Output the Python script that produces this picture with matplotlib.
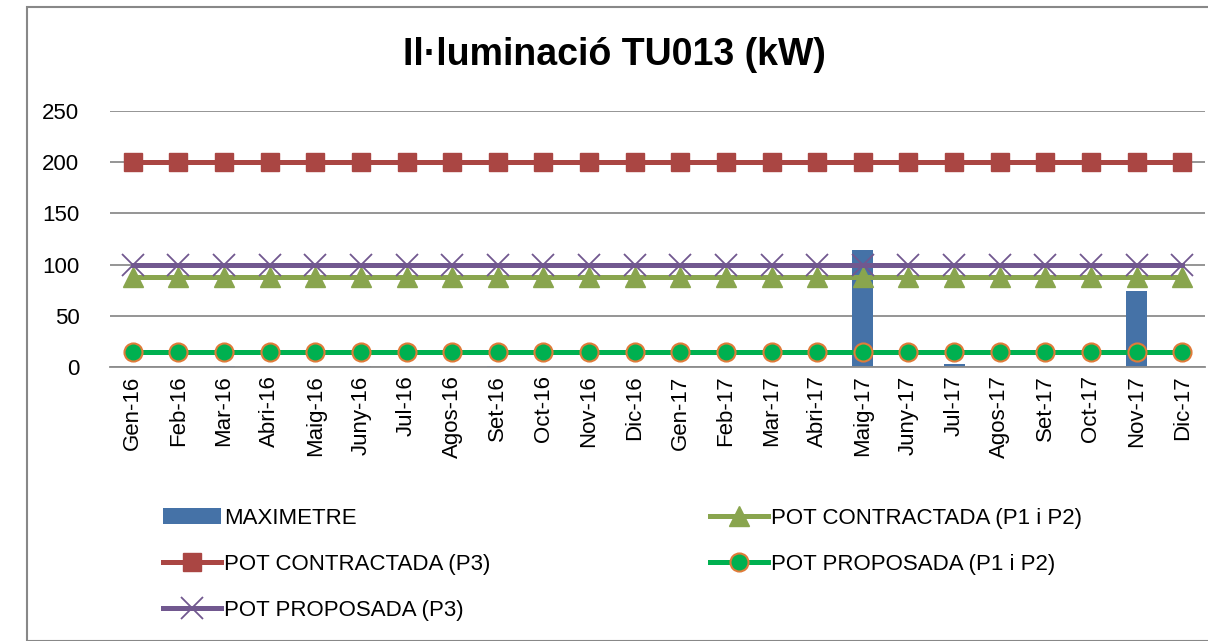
import numpy as np
from matplotlib import pyplot as plt
from matplotlib.patches import Rectangle

plt.rcParams['font.family'] = ['Liberation Sans', 'DejaVu Sans']

MONTHS = ['Gen-16', 'Feb-16', 'Mar-16', 'Abri-16', 'Maig-16', 'Juny-16', 'Jul-16',
          'Agos-16', 'Set-16', 'Oct-16', 'Nov-16', 'Dic-16',
          'Gen-17', 'Feb-17', 'Mar-17', 'Abri-17', 'Maig-17', 'Juny-17', 'Jul-17',
          'Agos-17', 'Set-17', 'Oct-17', 'Nov-17', 'Dic-17']

maximetre = [0, 0, 0.6, 0, 0, 0.6, 0, 0, 0.6, 0, 0, 0,
             0, 0, 0, 0, 114, 0, 3, 0, 0, 0, 74, 0]
contr_p12 = [88] * 24
contr_p3 = [200] * 24
prop_p12 = [15] * 24
prop_p3 = [100] * 24


def main():
    fig = plt.figure(figsize=(12.08, 6.41), dpi=100)
    fig.patches.append(Rectangle((27 / 1208, 0), 1.2, 1 - 7 / 641,
                                 transform=fig.transFigure, fill=False,
                                 edgecolor='#888888', linewidth=1.5))
    ax = fig.add_axes([110 / 1208, 1 - 367 / 641, 1095 / 1208, 256 / 641])

    x = np.arange(len(MONTHS))
    lw = 3.6

    h_bar = ax.bar(x, maximetre, width=0.46, color='#4572A7', zorder=2,
                   label='MAXIMETRE')
    h_c12, = ax.plot(x, contr_p12, color='#89A54E', lw=lw, marker='^', ms=14,
                     zorder=3, label='POT CONTRACTADA (P1 i P2)')
    h_c3, = ax.plot(x, contr_p3, color='#AA4643', lw=lw, marker='s', ms=13,
                    zorder=3, label='POT CONTRACTADA (P3)')
    h_p12, = ax.plot(x, prop_p12, color='#00B050', lw=lw, marker='o', ms=13,
                     mfc='#00B050', mec='#E07B39', mew=1.5, zorder=3,
                     label='POT PROPOSADA (P1 i P2)')
    h_p3, = ax.plot(x, prop_p3, color='#71588F', lw=lw, marker='x', ms=16,
                    mew=1.3, zorder=3, label='POT PROPOSADA (P3)')

    ax.set_xlim(-0.5, len(MONTHS) - 0.5)
    ax.set_ylim(0, 250)
    ax.set_yticks(range(0, 251, 50))
    ax.set_xticks(x)
    ax.set_xticklabels(MONTHS, rotation=90, fontsize=16)
    ax.tick_params(axis='y', labelsize=16, length=0, pad=22)
    ax.tick_params(axis='x', length=0, pad=6)
    ax.grid(axis='y', color='#8c8c8c', linewidth=1.3, zorder=0)
    ax.set_axisbelow(True)
    for side in ['top', 'right', 'left']:
        ax.spines[side].set_visible(False)
    ax.spines['bottom'].set_color('#8c8c8c')
    ax.spines['bottom'].set_linewidth(1.3)

    fig.text(0.509, 1 - 55 / 641, 'Il·luminació TU013 (kW)', ha='center',
             va='center', fontsize=27, fontweight='bold')

    handles = [h_bar, h_c3, h_p3, h_c12, h_p12]
    fig.legend(handles, [h.get_label() for h in handles], ncol=2,
               loc='upper left', bbox_to_anchor=(154 / 1208, 1 - 499 / 641),
               frameon=False, fontsize=16, handlelength=2.6,
               handletextpad=0.15, columnspacing=9.9, labelspacing=1.12,
               borderaxespad=0)

    fig.savefig('out.png', dpi=100)


if __name__ == '__main__':
    main()
